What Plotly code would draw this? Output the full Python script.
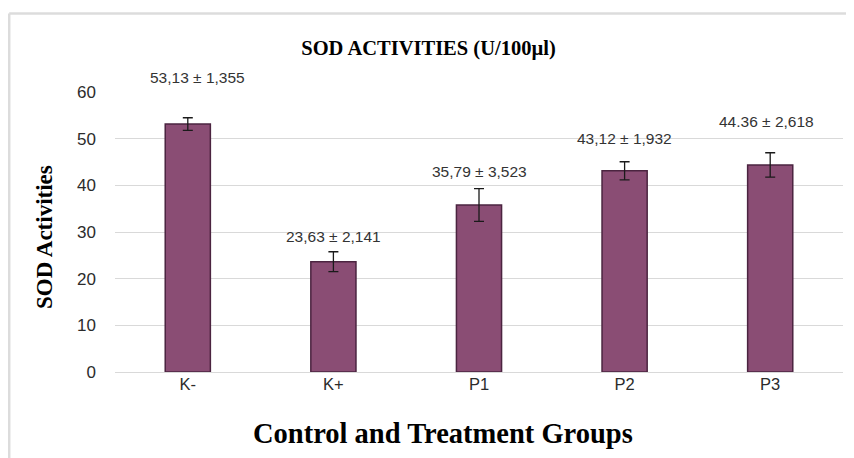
import plotly.graph_objects as go

# ---- data ----
groups = ["K-", "K+", "P1", "P2", "P3"]
sod_mean = [53.13, 23.63, 35.79, 43.12, 44.36]
sod_sd = [1.355, 2.141, 3.523, 1.932, 2.618]
value_labels = ["53,13 ± 1,355", "23,63 ± 2,141", "35,79 ± 3,523",
                "43,12 ± 1,932", "44.36 ± 2,618"]
y_ticks = [0, 10, 20, 30, 40, 50, 60]

# ---- layout constants (positions, not data) ----
OFF = 8                      # page body margin
W, H = 854 - OFF, 458 - OFF
X0, X1 = 115 - OFF, 843 - OFF      # plot area in figure pixels
Y0, Y1 = 92 - OFF, 372 - OFF
ML, MR, MT, MB = X0, W - X1, Y0, H - Y1
plot_w = X1 - X0
plot_h = Y1 - Y0
label_y = [63.2, 29.0, 43.0, 50.1, 53.7]   # label heights (axis units)
label_dx = [10, 0, 0, 0, -4]

BAR = "#8a4d74"
EDGE = "#4b2440"
SERIF = "Times New Roman, Liberation Serif, serif"
SANS = "Arial, Liberation Sans, sans-serif"


def px_x(x):
    return (x - OFF - X0) / plot_w


def px_y(y):
    return (Y1 - (y - OFF)) / plot_h


fig = go.Figure()
fig.add_trace(go.Bar(
    x=groups, y=sod_mean, width=0.31,
    marker=dict(color=BAR, line=dict(color=EDGE, width=1.5)),
    error_y=dict(type="data", array=sod_sd, visible=True,
                 color="#1a1a1a", thickness=1.3, width=5),
    hoverinfo="x+y",
))

for g, ly, txt, dx in zip(groups, label_y, value_labels, label_dx):
    fig.add_annotation(x=g, y=ly / 60, yref="paper", text=txt,
                       showarrow=False, xshift=dx,
                       font=dict(family=SANS, size=15.5, color="#333333"),
                       xanchor="center", yanchor="middle")

# axis titles
fig.add_annotation(xref="paper", yref="paper", x=px_x(443), y=px_y(433),
                   text="<b>Control and Treatment Groups</b>", showarrow=False,
                   font=dict(family=SERIF, size=28.5, color="#000000"),
                   xanchor="center", yanchor="middle")
fig.add_annotation(xref="paper", yref="paper", x=px_x(45), y=px_y(237),
                   text="<b>SOD Activities</b>", showarrow=False, textangle=-90,
                   font=dict(family=SERIF, size=23, color="#000000"),
                   xanchor="center", yanchor="middle")

# outer frame (top and left edges)
frame = dict(color="#dcdcdc", width=2.5)
fig.add_shape(type="line", xref="paper", yref="paper",
              xsizemode="pixel", ysizemode="pixel", xanchor=0, yanchor=0,
              x0=1.2 - X0, x1=1.2 - X0, y0=-MB - 5, y1=Y1 - 5.5,
              line=frame)
fig.add_shape(type="line", xref="paper", yref="paper",
              xsizemode="pixel", ysizemode="pixel", xanchor=0, yanchor=0,
              x0=1.2 - X0, x1=W - X0 + 5, y0=Y1 - 5.5, y1=Y1 - 5.5,
              line=frame)

fig.update_layout(
    width=W, height=H,
    margin=dict(l=ML, r=MR, t=MT, b=MB),
    paper_bgcolor="white", plot_bgcolor="white",
    showlegend=False,
    title=dict(text="<b>SOD ACTIVITIES (U/100µl)</b>",
               x=(428.5 - OFF) / W, xref="container", xanchor="center",
               y=1 - (48 - OFF) / H, yanchor="middle",
               font=dict(family=SERIF, size=20.5, color="#000000")),
)
fig.update_xaxes(showgrid=False, showline=False, ticks="",
                 tickfont=dict(family=SANS, size=16.5, color="#2b2b2b"))
fig.update_yaxes(range=[0, 60], tickvals=y_ticks, showgrid=True,
                 gridcolor="#d9d9d9", gridwidth=1.2, zeroline=True,
                 zerolinecolor="#d9d9d9", zerolinewidth=1.2, showline=False,
                 ticks="", ticklabelstandoff=18,
                 tickfont=dict(family=SANS, size=17, color="#2b2b2b"))

fig.write_html("out.html")
